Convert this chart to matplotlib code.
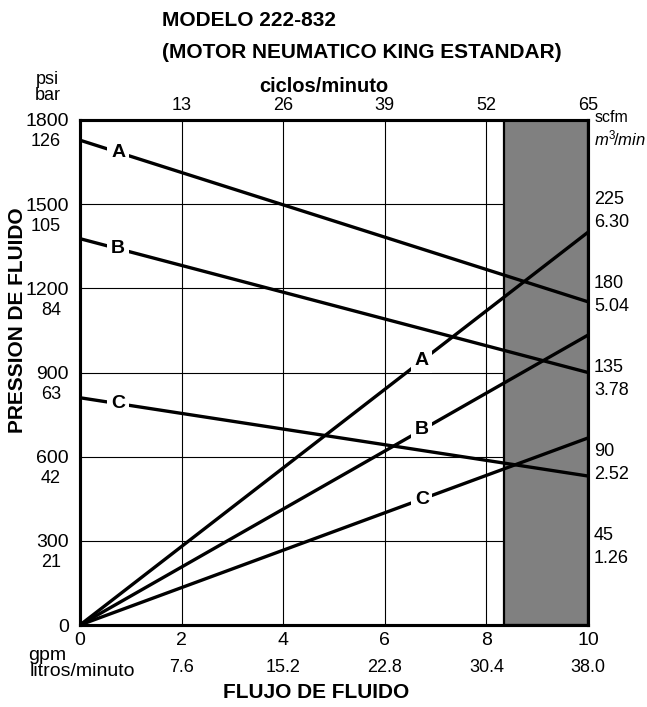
import matplotlib
matplotlib.use('Agg')
import matplotlib.pyplot as plt
import matplotlib.transforms as mtransforms

plt.rcParams['font.family'] = ['Liberation Sans', 'DejaVu Sans']
plt.rcParams['mathtext.fontset'] = 'custom'
plt.rcParams['mathtext.rm'] = 'Liberation Sans'
plt.rcParams['mathtext.it'] = 'Liberation Sans:italic'

# chart data
flow_gpm = [0, 10]
gpm_ticks = [0, 2, 4, 6, 8, 10]
lpm_labels = ['7.6', '15.2', '22.8', '30.4', '38.0']
cycle_labels = ['13', '26', '39', '52', '65']
psi_ticks = [0, 300, 600, 900, 1200, 1500, 1800]
bar_labels = ['21', '42', '63', '84', '105', '126']
scfm_ticks = [45, 90, 135, 180, 225]
m3_labels = ['1.26', '2.52', '3.78', '5.04', '6.30']

# fluid pressure (psi) at 0 and 10 gpm
pressure = {'A': [1728, 1152], 'B': [1377, 900], 'C': [810, 531]}
# air consumption (scfm) at 0 and 10 gpm
air = {'A': [0, 210], 'B': [0, 155], 'C': [0, 100]}
shade_from = 8.35

fig = plt.figure(figsize=(6.47, 7.07), dpi=100)
ax = fig.add_axes([80/647, 1-625/707, 508/647, 505/707])
ax.set_xlim(0, 10)
ax.set_ylim(0, 1800)

for x in gpm_ticks[1:-1]:
    ax.axvline(x, color='black', lw=0.8, zorder=1)
for y in psi_ticks[1:-1]:
    ax.axhline(y, color='black', lw=0.8, zorder=1)
ax.axvspan(shade_from, 10, facecolor='#808080', edgecolor='black', lw=1.6, zorder=2)

for k, vals in pressure.items():
    ax.plot(flow_gpm, vals, color='black', lw=2.4, zorder=3, solid_capstyle='butt')
    yl = vals[0] + (vals[1]-vals[0])*0.075
    ax.text(0.75, yl, k, fontsize=14, fontweight='bold', ha='center', va='center',
            zorder=5, bbox=dict(fc='white', ec='none', pad=3))

ax2 = ax.twinx()
ax2.set_ylim(0, 270)
ax2.set_yticks([])
for k, vals in air.items():
    ax2.plot(flow_gpm, vals, color='black', lw=2.4, zorder=3, solid_capstyle='butt')
    yl = vals[0] + (vals[1]-vals[0])*0.673
    ax2.text(6.73, yl, k, fontsize=14, fontweight='bold', ha='center', va='center',
             zorder=5, bbox=dict(fc='white', ec='none', pad=2.5))

for a in (ax, ax2):
    for s in a.spines.values():
        s.set_linewidth(2.2)

ax.set_xticks(gpm_ticks)
ax.set_xticklabels([str(v) for v in gpm_ticks], fontsize=14)
ax.set_yticks(psi_ticks)
ax.set_yticklabels([str(v) for v in psi_ticks], fontsize=14)
ax.tick_params(length=0)
ax.tick_params(axis='x', pad=5)
ax.tick_params(axis='y', pad=8)

# secondary labels
offy = mtransforms.offset_copy(ax.get_yaxis_transform(), fig=fig, x=-19, y=-22, units='dots')
for y, lab in zip(psi_ticks[1:], bar_labels):
    ax.text(0, y, lab, transform=offy, fontsize=13, ha='right', va='center')

offx = mtransforms.offset_copy(ax.get_xaxis_transform(), fig=fig, x=0, y=-42, units='dots')
for x, lab in zip(gpm_ticks[1:], lpm_labels):
    ax.text(x, 0, lab, transform=offx, fontsize=13, ha='center', va='center')

offt = mtransforms.offset_copy(ax.get_xaxis_transform(), fig=fig, x=0, y=14, units='dots')
for x, lab in zip(gpm_ticks[1:], cycle_labels):
    ax.text(x, 1, lab, transform=offt, fontsize=13, ha='center', va='center')

r_up = mtransforms.offset_copy(ax2.get_yaxis_transform(), fig=fig, x=6, y=5, units='dots')
r_dn = mtransforms.offset_copy(ax2.get_yaxis_transform(), fig=fig, x=6, y=-18, units='dots')
for y, m in zip(scfm_ticks, m3_labels):
    ax2.text(1, y, str(y), transform=r_up, fontsize=13, ha='left', va='center')
    ax2.text(1, y, m, transform=r_dn, fontsize=13, ha='left', va='center')

# texts around the chart
fig.text(162/647, 1-21/707, 'MODELO 222-832', fontsize=15, fontweight='bold', va='center')
fig.text(162/647, 1-52/707, '(MOTOR NEUMATICO KING ESTANDAR)', fontsize=15,
         fontweight='bold', va='center')
fig.text(324/647, 1-86/707, 'ciclos/minuto', fontsize=14.5, fontweight='bold',
         ha='center', va='center')
fig.text(47/647, 1-80/707, 'psi', fontsize=13, ha='center', va='center')
fig.text(48/647, 1-96/707, 'bar', fontsize=13, ha='center', va='center')
fig.text(18/647, 1-320/707, 'PRESSION DE FLUIDO', fontsize=15, fontweight='bold',
         rotation=90, ha='center', va='center')
fig.text(595/647, 1-117/707, 'scfm', fontsize=11.5, ha='left', va='center')
fig.text(594/647, 1-138/707, r'$m^3\!/min$', fontsize=12, ha='left', va='center')
fig.text(28/647, 1-655/707, 'gpm', fontsize=14, ha='left', va='center')
fig.text(30/647, 1-671/707, 'litros/minuto', fontsize=14, ha='left', va='center')
fig.text(316/647, 1-693/707, 'FLUJO DE FLUIDO', fontsize=15, fontweight='bold',
         ha='center', va='center')

fig.savefig('out.png', dpi=100)
